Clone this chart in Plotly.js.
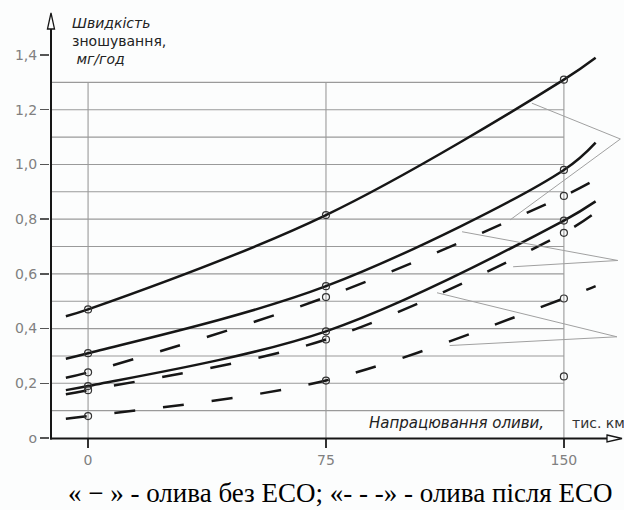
<!DOCTYPE html>
<html>
<head>
<meta charset="utf-8">
<script src="https://cdn.plot.ly/plotly-3.0.1.min.js"></script>
<style>html,body{margin:0;padding:0;background:#fcfdfd;}#chart{width:624px;height:510px;}</style>
</head>
<body>
<div id="chart"></div>
<script>
// ---- data ----
const markX = [0, 75, 150];
const lineX = [-7, 0, 75, 150, 160];
const solid1 = [0.445, 0.47, 0.815, 1.31, 1.39];
const solid2 = [0.29, 0.31, 0.555, 0.98, 1.08];
const solid3 = [0.175, 0.19, 0.39, 0.795, 0.865];
const dashed1 = [0.22, 0.24, 0.515, 0.885, 0.945];
const dashed2 = [0.16, 0.175, 0.36, 0.75, 0.825];
const dashed3 = [0.07, 0.08, 0.21, 0.51, 0.555];
const extraX = [150];
const extraY = [0.225];
const yTickVals = [0, 0.2, 0.4, 0.6, 0.8, 1.0, 1.2, 1.4];
const yTickText = ["o", "0,2", "0,4", "0,6", "0,8", "1,0", "1,2", "1,4"];
const xTickVals = [0, 75, 150];
const xTickText = ["0", "75", "150"];
const gridY = [0.1, 0.2, 0.3, 0.4, 0.5, 0.6, 0.7, 0.8, 0.9, 1.0, 1.1, 1.2, 1.3];
const gridX = [0, 75, 150];
const yTitle = ["Швидкість", "зношування,", " мг/год"];
const xTitle = "Напрацювання оливи,";
const xUnit = "тис. км";
const caption = "« − » - олива без ЕСО; «- - -» - олива після ЕСО";

// ---- geometry helpers ----
const L = 50, R = 621, T = 14, B = 438.5;
const XR = [-12, 168], YR = [0, 1.55];
const px = v => (v - L) / (R - L);
const py = v => (B - v) / (B - T);
const ink = '#161616';

function pickAt(arr) { return markX.map(x => arr[lineX.indexOf(x)]); }

const traces = [];
function addLine(y, dashed) {
  traces.push({x: lineX, y: y, mode: 'lines', type: 'scatter', hoverinfo: 'skip',
    line: {color: ink, width: 2.5, shape: 'spline', smoothing: 1, dash: dashed ? '21px,28px' : 'solid'}});
  traces.push({x: markX, y: pickAt(y), mode: 'markers', type: 'scatter', hoverinfo: 'skip',
    marker: {symbol: 'circle-open', size: 7, color: '#333', line: {width: 1.2, color: '#333'}}});
}
addLine(solid1, false); addLine(solid2, false); addLine(solid3, false);
addLine(dashed1, true); addLine(dashed2, true); addLine(dashed3, true);
traces.push({x: extraX, y: extraY, mode: 'markers', type: 'scatter', hoverinfo: 'skip',
  marker: {symbol: 'circle-open', size: 7, color: '#333', line: {width: 1.2, color: '#333'}}});

const shapes = [];
const gridLine = {color: '#9a9a9a', width: 1.1};
gridY.forEach(v => shapes.push({type: 'line', xref: 'x', yref: 'y', x0: XR[0], x1: 150, y0: v, y1: v, line: gridLine, layer: 'below'}));
gridX.forEach(v => shapes.push({type: 'line', xref: 'x', yref: 'y', x0: v, x1: v, y0: 0, y1: 1.3, line: gridLine, layer: 'below'}));
// leader lines
const leader = {color: '#a0a0a0', width: 1};
shapes.push({type: 'path', xref: 'x', yref: 'y', path: 'M 139.9,1.224 L 167.8,1.093 L 133,0.797', line: leader});
shapes.push({type: 'path', xref: 'x', yref: 'y', path: 'M 117.9,0.754 L 167,0.649 L 134,0.626', line: leader});
shapes.push({type: 'path', xref: 'x', yref: 'y', path: 'M 110,0.531 L 166.7,0.370 L 114,0.338', line: leader});
// axes with open arrow heads
shapes.push({type: 'line', xref: 'paper', yref: 'paper', x0: px(51), x1: px(51), y0: py(440), y1: py(28), line: {color: ink, width: 2}});
shapes.push({type: 'path', xref: 'paper', yref: 'paper',
  path: `M ${px(47.5)},${py(29)} L ${px(51)},${py(13)} L ${px(54.5)},${py(29)} Z`, line: {color: ink, width: 1.3}, fillcolor: '#fcfdfd'});
shapes.push({type: 'line', xref: 'paper', yref: 'paper', x0: px(50), x1: px(607), y0: py(439), y1: py(439), line: {color: ink, width: 2}});
shapes.push({type: 'path', xref: 'paper', yref: 'paper',
  path: `M ${px(607)},${py(435.5)} L ${px(622)},${py(439)} L ${px(607)},${py(442.5)} Z`, line: {color: ink, width: 1.3}, fillcolor: '#fcfdfd'});

const annotations = [];
const titleFont = {family: 'DejaVu Sans, Liberation Sans, sans-serif', size: 14, color: '#222'};
yTitle.forEach((t, i) => annotations.push({xref: 'paper', yref: 'paper', x: px(70), y: py(23 + i * 18),
  xanchor: 'left', yanchor: 'middle', showarrow: false,
  text: i === 1 ? t : '<i>' + t + '</i>', font: titleFont}));
annotations.push({xref: 'paper', yref: 'paper', x: px(546), y: py(423), xanchor: 'right', yanchor: 'middle',
  showarrow: false, text: '<i>' + xTitle + '</i>', font: {family: 'DejaVu Sans, sans-serif', size: 15, color: '#222'}});
annotations.push({xref: 'paper', yref: 'paper', x: px(570), y: py(423), xanchor: 'left', yanchor: 'middle',
  showarrow: false, text: xUnit, font: {family: 'DejaVu Sans, sans-serif', size: 14, color: '#333'}});
annotations.push({xref: 'paper', yref: 'paper', x: px(66), y: py(494), xanchor: 'left', yanchor: 'middle',
  showarrow: false, text: caption, font: {family: 'Liberation Serif, DejaVu Serif, serif', size: 27, color: '#000'}});

const tickFont = {family: 'DejaVu Sans, Liberation Sans, sans-serif', size: 14, color: '#808080'};
const layout = {
  width: 624, height: 510,
  margin: {l: L, r: 624 - R, t: T, b: 510 - B, pad: 0},
  paper_bgcolor: '#fcfdfd', plot_bgcolor: '#fcfdfd',
  showlegend: false,
  xaxis: {range: XR, showgrid: false, zeroline: false, showline: false,
    tickmode: 'array', tickvals: xTickVals, ticktext: xTickText,
    ticks: 'outside', ticklen: 9, tickwidth: 1.5, tickcolor: '#333', tickfont: tickFont, fixedrange: true},
  yaxis: {range: YR, showgrid: false, zeroline: false, showline: false,
    tickmode: 'array', tickvals: yTickVals, ticktext: yTickText,
    ticks: 'outside', ticklen: 9, tickwidth: 1.5, tickcolor: '#555', tickfont: tickFont, fixedrange: true},
  shapes: shapes,
  annotations: annotations
};
Plotly.newPlot('chart', traces, layout, {staticPlot: true, displayModeBar: false});
</script>
</body>
</html>
